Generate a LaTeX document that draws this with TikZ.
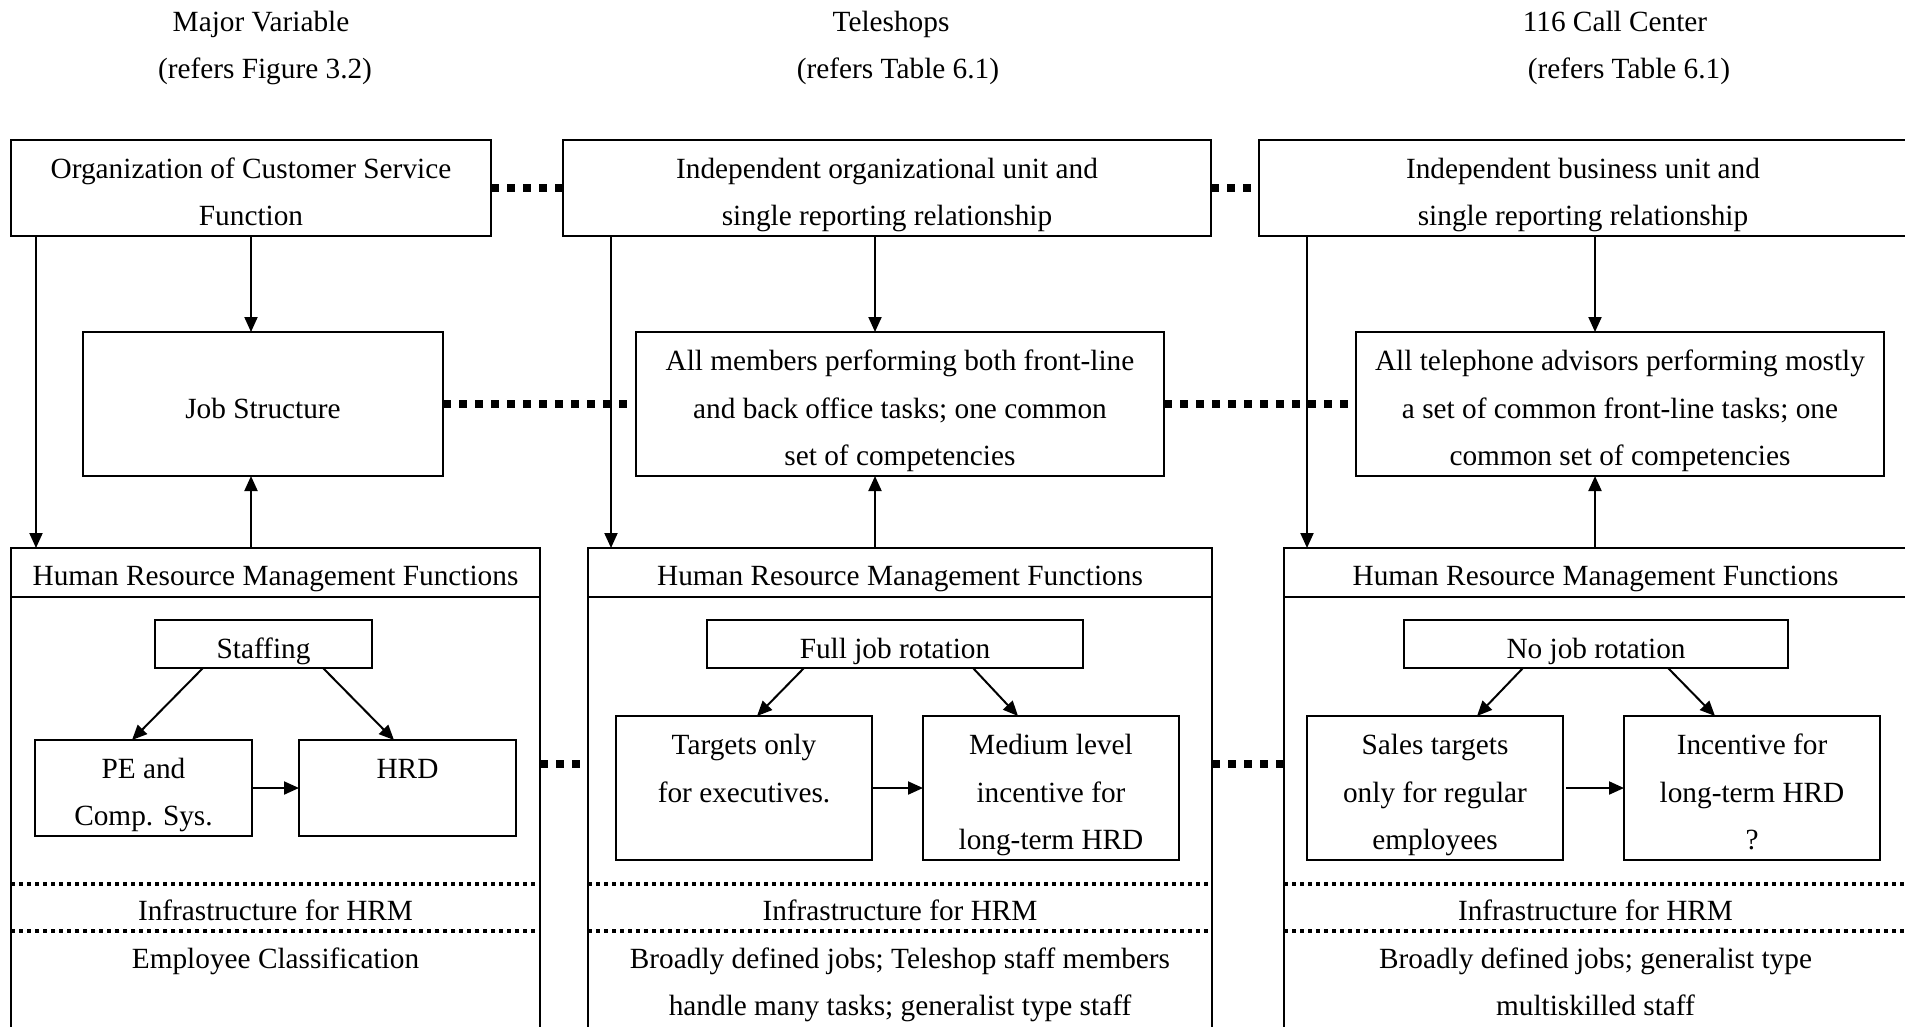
\documentclass[tikz,border=0pt]{standalone}
\usepackage{fontspec}
\setmainfont{Liberation Serif}
\usetikzlibrary{arrows.meta}
\newcommand\dfont{\fontsize{29.3pt}{47.4pt}\selectfont}
% line struts: fix every text line to the same height and depth
\newcommand\ls{\rule[-11.7pt]{0pt}{47.4pt}}
\newcommand\bs{\rule[-9.5pt]{0pt}{47.4pt}}
\begin{document}
\begin{tikzpicture}[x=1pt,y=-1pt,
  every node/.style={font=\dfont, inner sep=0pt, outer sep=0pt},
  box/.style={draw, line width=2.2pt, rectangle, align=center},
  txt/.style={align=center},
  arr/.style={line width=2pt, -{Triangle[length=15pt,width=13pt]}},
  link/.style={line width=8pt, dash pattern=on 8pt off 8pt},
  sep/.style={line width=4pt, dash pattern=on 4pt off 4pt},
]
\useasboundingbox (0,0) rectangle (1905,1026);
\clip (0,0) rectangle (1905,1026);

% column headings
\node[txt] (h1a) at (261,19.2) {\ls Major Variable};
\node[txt] (h1b) at (265,66.5) {\ls(refers Figure 3.2)};
\node[txt] (h2a) at (891,19.2) {\ls Teleshops};
\node[txt] (h2b) at (898,66.5) {\ls(refers Table 6.1)};
\node[txt] (h3a) at (1615,19.2) {\ls 116 Call Center};
\node[txt] (h3b) at (1629,66.5) {\ls(refers Table 6.1)};

% organisation boxes
\node[box, minimum width=480, minimum height=96] (topL) at (251,188)
  {\bs Organization of Customer Service\\\bs Function};
\node[box, minimum width=648, minimum height=96] (topM) at (887,188)
  {\bs Independent organizational unit and\\\bs single reporting relationship};
\node[box, minimum width=648, minimum height=96] (topR) at (1583,188)
  {\bs Independent business unit and\\\bs single reporting relationship};

% job structure boxes
\node[box, minimum width=360, minimum height=144] (jsL) at (263,404) {\bs Job Structure};
\node[box, minimum width=528, minimum height=144] (jsM) at (900,404)
  {\bs All members performing both front-line\\\bs and back office tasks; one common\\\bs set of competencies};
\node[box, minimum width=528, minimum height=144] (jsR) at (1620,404)
  {\bs All telephone advisors performing mostly\\\bs a set of common front-line tasks; one\\\bs common set of competencies};

% HRM frames
\node[box, minimum width=529, minimum height=512] (hrmL) at (275.5,804) {};
\node[box, minimum width=624, minimum height=512] (hrmM) at (900,804) {};
\node[box, minimum width=623, minimum height=512] (hrmR) at (1595.5,804) {};
\foreach \b in {hrmL,hrmM,hrmR}{
  \draw[line width=2.2pt] ([yshift=-49pt]\b.north west) -- ([yshift=-49pt]\b.north east);
  \draw[sep] ([yshift=-336pt]\b.north west) -- ([yshift=-336pt]\b.north east);
  \draw[sep] ([yshift=-383pt]\b.north west) -- ([yshift=-383pt]\b.north east);
}
\node[txt] (hdL) at (275.5,573.7) {\ls Human Resource Management Functions};
\node[txt] (hdM) at (900,573.7) {\ls Human Resource Management Functions};
\node[txt] (hdR) at (1595.5,573.7) {\ls Human Resource Management Functions};
\node[txt] (infL) at (275.5,908.2) {\ls Infrastructure for HRM};
\node[txt] (infM) at (900,908.2) {\ls Infrastructure for HRM};
\node[txt] (infR) at (1595.5,908.2) {\ls Infrastructure for HRM};
\node[txt] (ecL) at (275.5,956) {\ls Employee Classification};
\node[txt] (ecM) at (900,979.7) {\ls Broadly defined jobs; Teleshop staff members\\\ls handle many tasks; generalist type staff};
\node[txt] (ecR) at (1595.5,979.7) {\ls Broadly defined jobs; generalist type\\\ls multiskilled staff};

% HRM function boxes
\node[box, minimum width=217, minimum height=48] (staffL) at (263.5,644) {\bs Staffing};
\node[box, minimum width=376, minimum height=48] (staffM) at (895,644) {\bs Full job rotation};
\node[box, minimum width=384, minimum height=48] (staffR) at (1596,644) {\bs No job rotation};

\node[box, minimum width=217, minimum height=96] (peL) at (143.5,788) {\bs PE and\\\bs Comp. Sys.};
\node[box, minimum width=217, minimum height=96] (hrdL) at (407.5,788) {\bs HRD\\\bs};
\node[box, minimum width=256, minimum height=144] (tgM) at (744,788)
  {\bs Targets only\\\bs for executives.\\\bs};
\node[box, minimum width=256, minimum height=144] (medM) at (1051,788)
  {\bs Medium level\\\bs incentive for\\\bs long-term HRD};
\node[box, minimum width=256, minimum height=144] (salR) at (1435,788)
  {\bs Sales targets\\\bs only for regular\\\bs employees};
\node[box, minimum width=256, minimum height=144] (incR) at (1752,788)
  {\bs Incentive for\\\bs long-term HRD\\\bs ?};

% arrow columns
\coordinate (xoL) at (36,0);   \coordinate (xcL) at (251,0);
\coordinate (xoM) at (611,0);  \coordinate (xcM) at (875,0);
\coordinate (xoR) at (1307,0); \coordinate (xcR) at (1595,0);
\coordinate (rowD) at (0,764);

\draw[arr] (topL.south -| xoL) -- (hrmL.north -| xoL);
\draw[arr] (topL.south -| xcL) -- (jsL.north -| xcL);
\draw[arr] (hrmL.north -| xcL) -- (jsL.south -| xcL);
\draw[arr] (topM.south -| xoM) -- (hrmM.north -| xoM);
\draw[arr] (topM.south -| xcM) -- (jsM.north -| xcM);
\draw[arr] (hrmM.north -| xcM) -- (jsM.south -| xcM);
\draw[arr] (topR.south -| xoR) -- (hrmR.north -| xoR);
\draw[arr] (topR.south -| xcR) -- (jsR.north -| xcR);
\draw[arr] (hrmR.north -| xcR) -- (jsR.south -| xcR);

% arrows inside the HRM frames
\draw[arr] ([xshift=-60.5pt]staffL.south) -- ([xshift=-11.5pt]peL.north);
\draw[arr] ([xshift=59.5pt]staffL.south) -- ([xshift=-13.5pt]hrdL.north);
\draw[arr] (peL.east) -- (hrdL.west);
\draw[arr] ([xshift=-91pt]staffM.south) -- ([xshift=13pt]tgM.north);
\draw[arr] ([xshift=78pt]staffM.south) -- ([xshift=-33pt]medM.north);
\draw[arr] (tgM.east) -- (medM.west);
\draw[arr] ([xshift=-73pt]staffR.south) -- ([xshift=42pt]salR.north);
\draw[arr] ([xshift=72pt]staffR.south) -- ([xshift=-37pt]incR.north);
\draw[arr] ([xshift=3pt]salR.east) -- (incR.west);

% dotted correspondences between columns
\draw[link] (topL.east) -- (topM.west);
\draw[link] (topM.east) -- (topR.west);
\draw[link] (jsL.east) -- (jsM.west);
\draw[link] (jsM.east) -- (jsR.west);
\draw[link] (hrmL.east |- rowD) -- (hrmM.west |- rowD);
\draw[link] (hrmM.east |- rowD) -- (hrmR.west |- rowD);
\end{tikzpicture}
\end{document}
